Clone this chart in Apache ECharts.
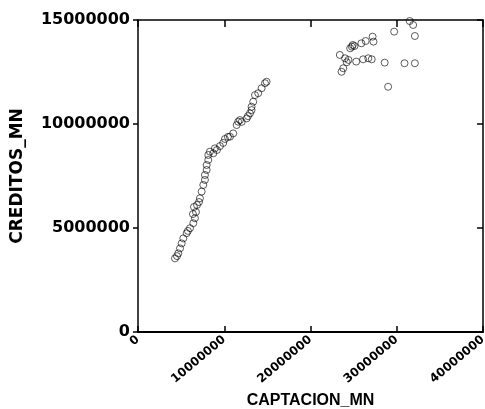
<!DOCTYPE html>
<html>
<head>
<meta charset="utf-8">
<script src="https://cdn.jsdelivr.net/npm/echarts@6/dist/echarts.min.js"></script>
<style>
  html, body { margin: 0; padding: 0; background: #fff; }
  #chart { width: 485px; height: 409px; }
</style>
</head>
<body>
<div id="chart"></div>
<script>
// values in millions
const captacion = [
  4.29, 4.52, 4.67, 4.87, 5.06, 5.25, 5.64, 5.79, 6.03, 6.41,
  6.60, 6.37, 6.72, 6.49, 6.84, 7.07, 7.18, 7.38, 7.57, 7.76,
  7.76, 7.96, 7.96, 8.15, 8.15, 8.34, 8.73, 8.92, 9.15, 9.50,
  9.88, 10.08, 10.43, 10.66, 11.04, 11.44, 11.62, 11.82, 12.02, 12.60,
  12.75, 12.98, 13.17, 13.17, 13.36, 13.56, 13.94, 14.33, 14.72, 14.91,
  29.7, 30.9, 31.5, 31.9, 32.1, 27.2, 27.3, 26.4, 25.9, 24.9,
  24.8, 25.1, 24.6, 23.4, 24.0, 24.4, 24.2, 25.3, 26.1, 26.7,
  27.1, 23.8, 23.6, 28.6, 30.9, 32.1, 29.0
];
const creditos = [
  3.54, 3.65, 3.78, 4.02, 4.26, 4.50, 4.75, 4.86, 4.99, 5.23,
  5.47, 5.67, 5.77, 6.01, 6.11, 6.25, 6.43, 6.75, 7.07, 7.31,
  7.55, 7.79, 8.03, 8.27, 8.51, 8.67, 8.59, 8.83, 8.75, 8.94,
  9.09, 9.28, 9.38, 9.39, 9.55, 9.95, 10.11, 10.19, 10.10, 10.27,
  10.38, 10.51, 10.67, 10.83, 11.07, 11.39, 11.48, 11.72, 11.96, 12.03,
  14.44, 15.03, 14.95, 14.76, 14.23, 14.20, 13.96, 13.99, 13.88, 13.80,
  13.72, 13.75, 13.64, 13.32, 13.16, 13.08, 12.97, 13.00, 13.11, 13.16,
  13.11, 12.68, 12.51, 12.95, 12.92, 12.92, 11.79
];
const points = captacion.map((x, i) => [x * 1e6, creditos[i] * 1e6]);

const chart = echarts.init(document.getElementById('chart'));
const lineStyle = { color: '#000', width: 1.5 };
const plain = v => String(v);
chart.setOption({
  animation: false,
  grid: { left: 138, right: 2, top: 20, bottom: 77, outerBoundsMode: 'none', containLabel: false },
  xAxis: [
    {
      type: 'value', min: 0, max: 40000000, interval: 10000000,
      name: 'CAPTACION_MN', nameLocation: 'middle', nameGap: 57,
      nameTextStyle: { fontFamily: 'Liberation Sans', fontWeight: 'bold', fontSize: 16, color: '#000' },
      axisLine: { onZero: false, lineStyle: { color: '#000', width: 2 } },
      axisTick: { inside: true, length: 6, lineStyle: lineStyle },
      axisLabel: { rotate: 40, margin: 6, formatter: plain, fontFamily: 'DejaVu Sans', fontWeight: 'bold', fontSize: 12, color: '#000' },
      splitLine: { show: false }
    },
    {
      type: 'value', position: 'top', min: 0, max: 40000000, interval: 10000000,
      axisLine: { onZero: false, lineStyle: lineStyle },
      axisTick: { inside: true, length: 7, lineStyle: lineStyle },
      axisLabel: { show: false },
      splitLine: { show: false }
    }
  ],
  yAxis: [
    {
      type: 'value', min: 0, max: 15000000, interval: 5000000,
      name: 'CREDITOS_MN', nameLocation: 'middle', nameGap: 112,
      nameTextStyle: { fontFamily: 'DejaVu Sans', fontWeight: 'bold', fontSize: 17, color: '#000' },
      axisLine: { onZero: false, lineStyle: lineStyle },
      axisTick: { inside: false, length: 5, lineStyle: lineStyle },
      axisLabel: { margin: 8, formatter: plain, fontFamily: 'DejaVu Sans', fontWeight: 'bold', fontSize: 16, color: '#000' },
      splitLine: { show: false }
    },
    {
      type: 'value', position: 'right', min: 0, max: 15000000, interval: 5000000,
      axisLine: { onZero: false, lineStyle: lineStyle },
      axisTick: { inside: true, length: 6, lineStyle: lineStyle },
      axisLabel: { show: false },
      splitLine: { show: false }
    }
  ],
  series: [
    {
      type: 'scatter',
      data: points,
      symbol: 'circle',
      symbolSize: 7,
      itemStyle: { color: 'rgba(255,255,255,0)', borderColor: '#000', borderWidth: 0.8 }
    }
  ]
});
</script>
</body>
</html>
